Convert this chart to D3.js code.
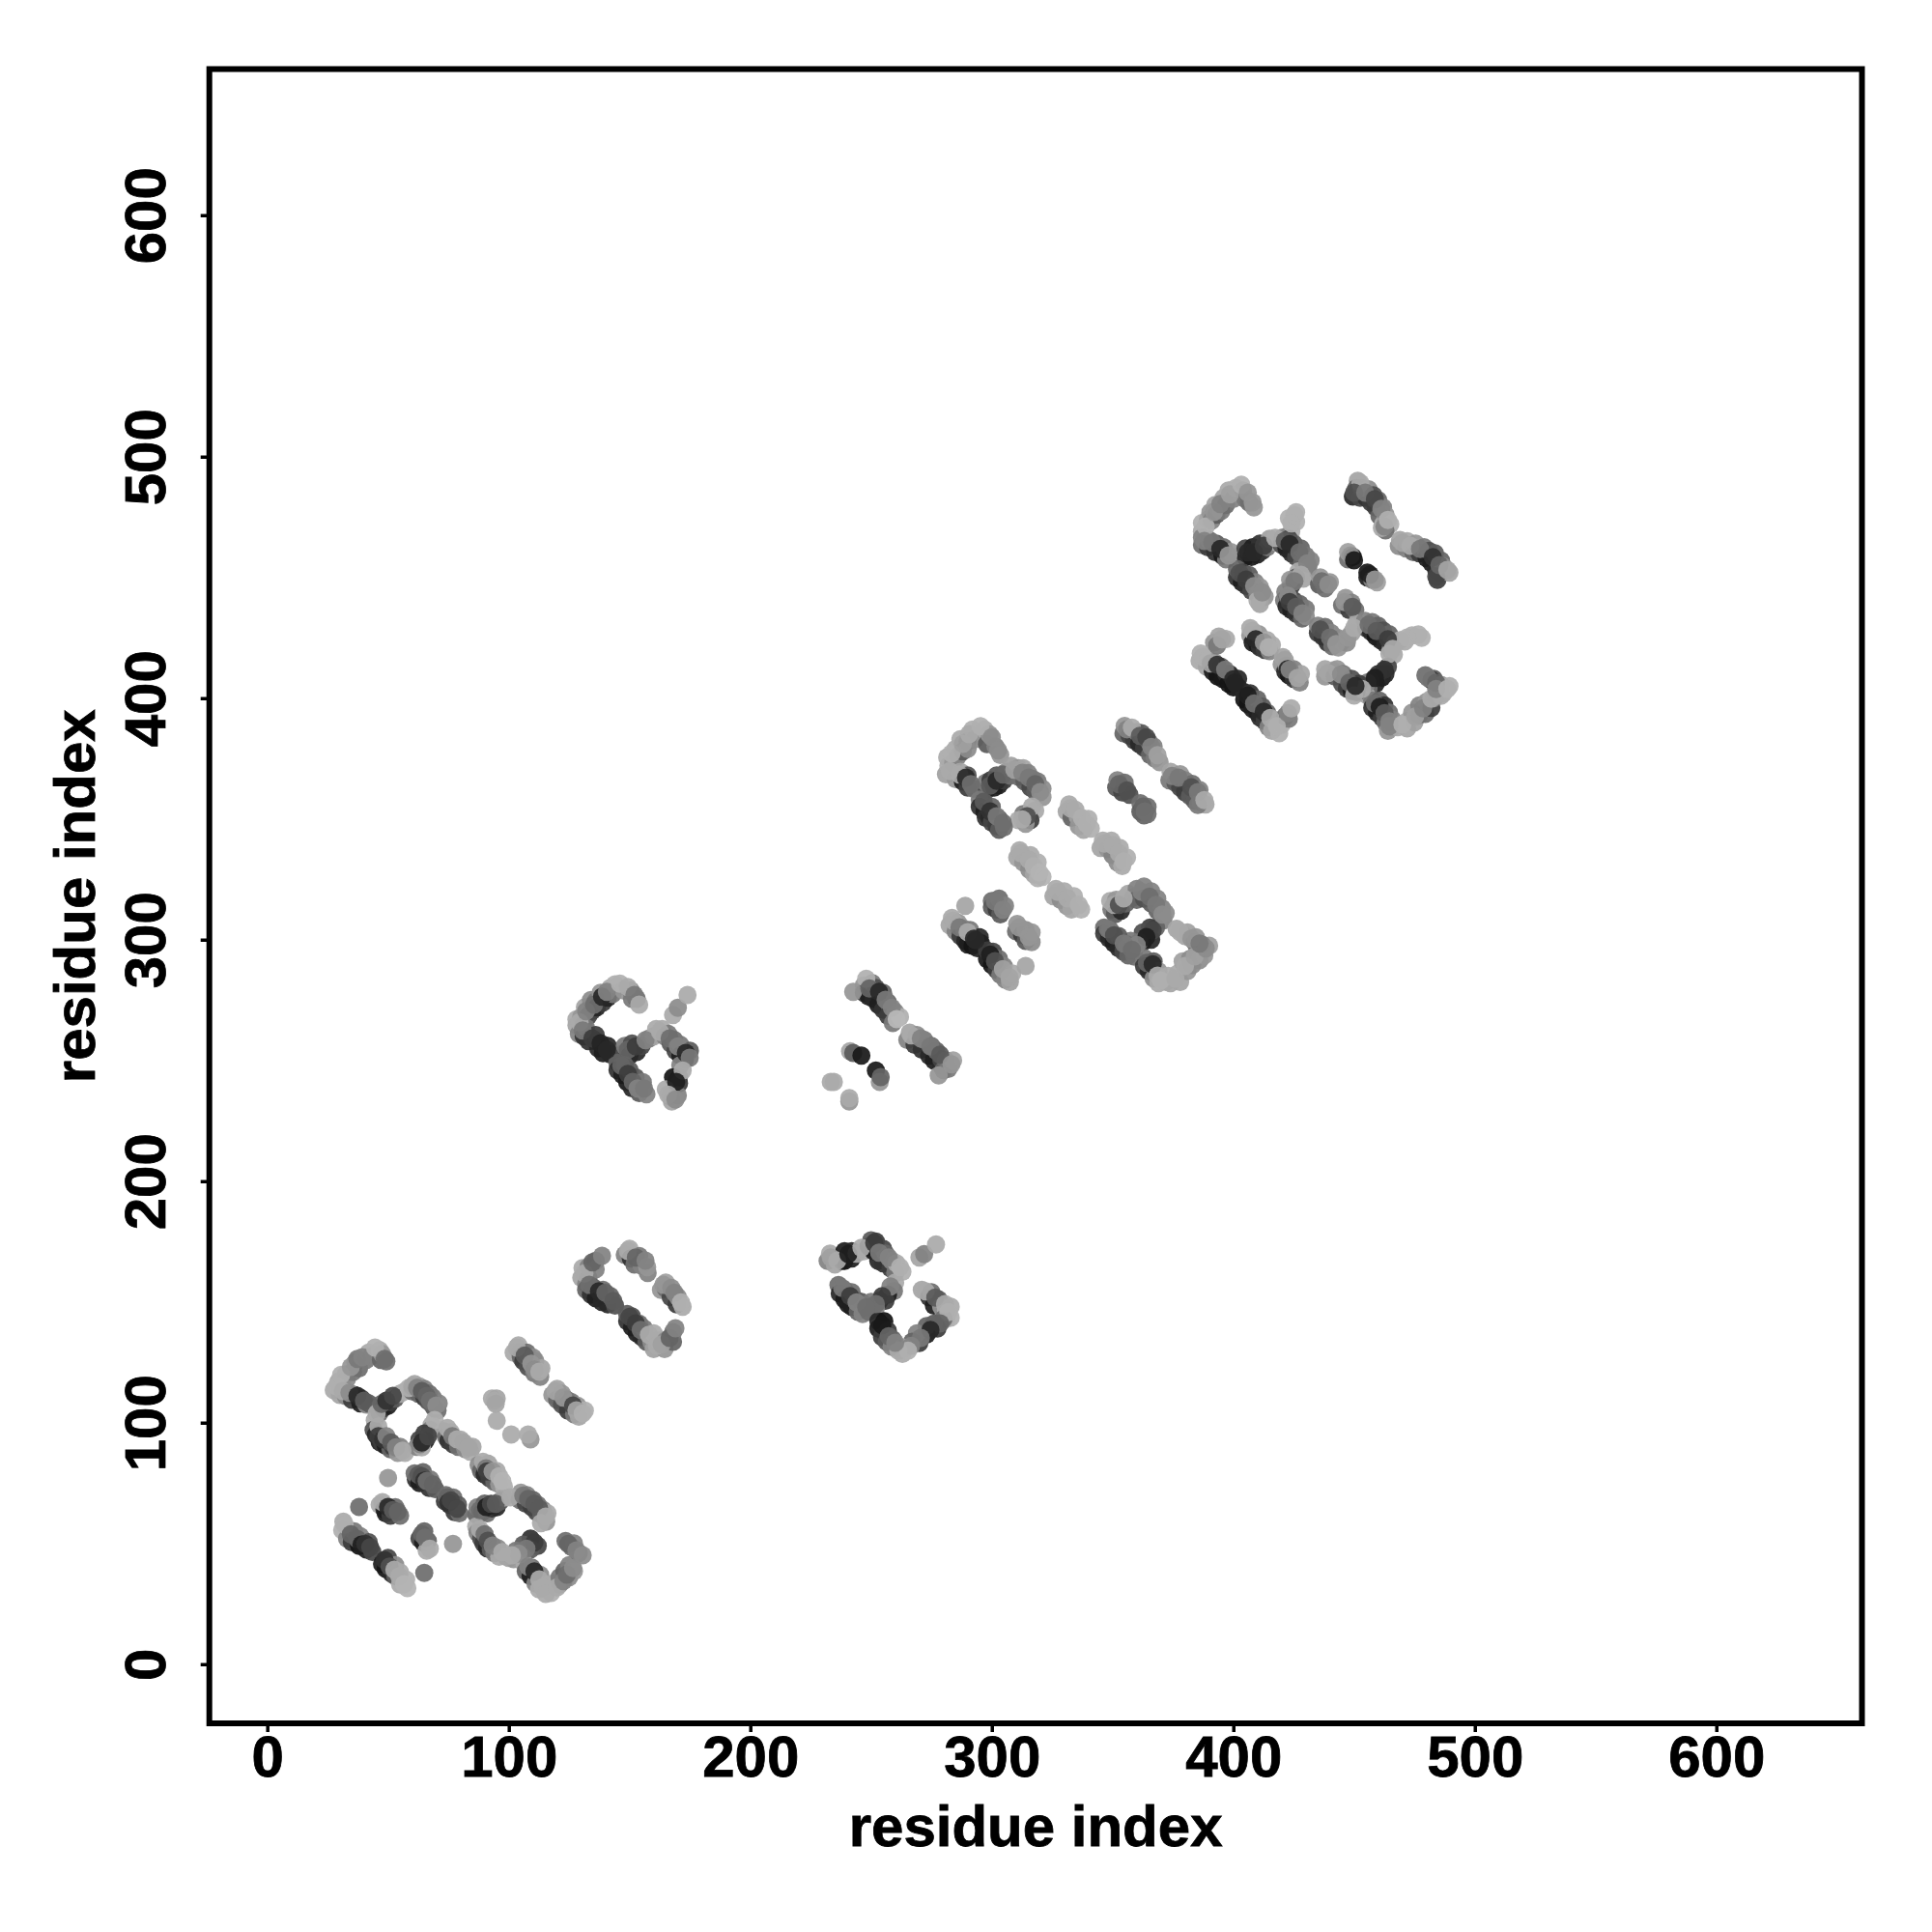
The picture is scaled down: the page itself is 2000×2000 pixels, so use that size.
<!DOCTYPE html>
<html><head><meta charset="utf-8">
<script src="https://cdn.jsdelivr.net/npm/d3@7/dist/d3.min.js"></script>
<style>html,body{margin:0;padding:0;background:#fff}svg{display:block}</style>
</head><body><div id="chart"></div>
<script>
const xTicks=[0,100,200,300,400,500,600];
const yTicks=[0,100,200,300,400,500,600];
const xLabel="residue index", yLabel="residue index";
// each point: [residue i, residue j, shade 0-255]; lower layer first
const lowerA=[[27.5,113.5,170],[29.5,117,165],[31,116.5,170],[32.5,120,150],[33,118,140],[35.5,121,120],[36.5,125,130],[38,122.5,110],[41,126,120],[42,129,170],[43,127.5,130],[46.5,130,170],[47,126,100],[47.5,128.5,150],
[30,111.5,165],[32.5,111,140],[35,109.5,60],[36,111.5,60],[38.5,108,30],[39,110,60],[41,107.5,140],[42,108,90],
[44.5,101,170],[44,97,80],[45,95,40],[46.5,92,30],[47.5,91.5,60],[49,90.5,30],[50,92,90],[51,89,100],[52,90,60],[54,87.5,150],[55,90,130],[57,87.5,170],
[46,106,120],[46.5,104,110],[48,106,60],[50,107,30],[51,108.5,60],[53,110,90],[55,112,170],[57,113,175],
[60,113,110],[61,116,165],[62.5,112,100],[63,115,160],[65,110.5,60],[65,114,130],[66.5,109,80],[67,112,110],[68.5,107,100],[68.5,110.5,120],[70.5,105,110],[71,108,130],
[68,99,170],[67.5,97,130],[65,95.5,60],[65.5,92.5,30],[63,93,70],[62,90,130],[64,89.8,170],
[73,96.5,165],[74,94,110],[75,92.5,50],[76,96,170],[77,91,60],[79,90,110],[80,93,170],[82,89,140],[84,88,170],[85,90,165],
[87.5,82.5,140],[88.5,80,100],[90,78.5,40],[91.5,83,165],[92,77,60],[94,75.5,100],[95,80,170],[96,74.5,150],[98,73.5,175]];
const lowerB=[[86.5,62,100],[87,65,130],[89,63,40],[90,66.5,100],[91,62.5,110],[93,64.5,50],[95,65,40],[96.5,67.5,90],[98,69,165],
[104.5,68,110],[105,71,150],[107,66.5,70],[107.5,70,130],[109.5,65,60],[110,68,100],[111.5,63,70],[112,66,110],[113.5,62,100],[114,64,130],[115.5,59,150],[116,62.5,170],
[112,49,70],[109,52,50],[109,47.5,90],[106,49.5,90],[105.5,44.5,130],[103,47,120],[100,44,170],[102,43.5,150],
[86.5,57,170],[87,54.5,130],[88.5,52,80],[89.5,50,60],[91,48,40],[92.5,47.5,90],[94,46,120],[95.5,48,140],[96,44.5,170],[99,44.5,165],
[106.5,41.5,170],[107,38.5,100],[109,36.5,30],[109.5,40,110],[111,33.5,130],[113,37,140],[112.5,31,170],[116,33,170],[117.5,29.5,175],[118.5,33.5,170],[121,33,140],[121,36,120],[123,38.5,100],[125,36,140],[125,41,130],[127,38.5,150],
[123.5,51,110],[126,48.5,110],[127,50,130],[129,46,110]];
const lowerC=[[61.5,76.5,50],[61,79,110],[63,75,30],[64.5,79.5,100],[67,73,50],[67.5,76.5,120],[69.5,72.5,90],
[73.5,67.5,60],[74,70,110],[75.5,66,40],[77,69,110],[77.5,63,60],[79,66,90],[79.5,62.5,110],
[46.5,66,170],[48.5,64,40],[49,62.5,30],[51,61.5,60],[53,65,110],[55,61.5,110],
[31,55.5,175],[31.5,59,170],[33,52,130],[35,50.5,60],[36,55,120],[38,49,20],[38.5,53,130],[41,47.5,30],[42,50.5,80],[43.5,46.5,70],
[47.5,41.5,30],[49,39.5,20],[50,44,70],[51.5,37.5,40],[53,41,140],[53,36.5,90],[55,38,170],[55,33,170],[57.5,35,175],[58,31.5,180],
[63,52,70],[65,55,100],[64.5,50.5,30],[66.5,51,100],[66,47,170],
[102,129,170],[104,132,170],[104.5,129,150],[105,127,100],[106,125.5,60],[107.5,129,110],[108,123,80],[110,127,140],[110.5,120.5,120],[111,125.5,140],[113,119,130],[113.5,122.5,165],
[118,111.5,150],[120,114,165],[120,109.5,100],[122,112,150],[122,107.5,80],[124,109.5,100],[124.5,105,60],[126,108.5,120],[127,103.5,120],[128.5,107,150],[129,102.5,165],[131.5,105,175],
[93,110,170],[95,110,165]];
const lowerD=[[128,264.5,165],[128,267,170],[130,268,150],[131,264.5,110],[131.5,272,165],[133,268.5,70],[134,275,140],[134.5,270.5,70],[136,274.5,120],[136.5,272,35],[138,278,150],[139,274,60],[141,276,35],[142,280,170],[143,277.5,120],[144,281.5,175],[147.5,279,150],[150.5,279,140],[151,275.5,120],[153,275.5,110],
[129,261,130],[131,260,50],[132,263.5,120],[133,258,50],[136,258,35],[136,260.5,60],[137,255,40],[139,253,30],[141,256,40],[142,252.5,40],
[147.5,253,80],[148,256,120],[150,252,40],[151,257,80],[153,253.5,40],[155,256,70],[158,259,120],[160,260,165],[161,263,170],
[163.5,263,170],[164.5,260,130],[166,261,120],[167,257,90],[168.5,258.5,110],[169,254,70],[171,256.5,120],[171,252,30],[173,250.5,30],[175,254,90],
[170.5,243,130],[171,248,130],[168,243,20],[170.5,240.5,60],[165,238,170],[167.5,233,165],[167,235,160],[170,235.5,130],
[145,249,100],[145,246,50],[147,244,30],[148,248,100],[149,241,25],[150,246,90],[151,238.5,40],[152.5,243,90],[154,236.5,90],[155.5,241,120],[157,236,130]];
const lowerE=[[247,281,150],[247,278,60],[249,276.5,30],[250.5,282,120],[251,275.5,40],[252,280,80],[253,273,30],[255,278,100],[255,271,50],[257,274,100],[257,268.5,60],[259,265.5,120],[260,270,130],[262,268,175],
[265,258.5,130],[266,261.5,165],[268,256.5,60],[269,260.5,140],[271,254.5,50],[272,258.5,120],[274,252,40],[275,256,110],[276,250,30],[277,254,100],[279,248,40],[279,250.5,70],[280,246,100],[281,250,110],[282,246.5,120],[284,250,160]];
const lowerF=[[130,160,165],[130.5,164,170],[132,157.5,130],[133,160,110],[133,164.5,130],[136,167,100],[136,163.5,130],
[132,155,100],[134,153,50],[135,156,90],[136,151.5,30],[138.5,150,40],[139,155,110],[141,149,40],[142,152.5,100],[144,148.5,80],
[148,169.5,130],[150,172,170],[150.5,168,50],[152,165.5,110],[154,169,120],[155,165,130],[157.5,162,130],
[163,155,150],[165,155.5,110],[165,158,160],[167,152,70],[169.5,149,60],[170,152,140],[172,148,170],
[149,142,50],[149,145,90],[151,139.5,30],[151,144,80],[153,137,30],[154,141,110],[155,135.5,40],[156,139,120],[157,133.5,90],[159,133.5,140],[160,137,170],[160,130.5,160],[162,134,170],[164.5,130.5,150],[165,134,140],[168,133.5,100],[168,137.5,120]];
const lowerG=[[232,167,130],[233,170,170],[235,165.5,165],[238,167,60],[239,171,30],[239,167,20],[242,168,30],[242,171,40],[244,170,170],[247,171,170],
[249,173,30],[250,175.5,90],[251,171,25],[252,175,60],[253,167,40],[255,172,70],[255,166,50],[256,170,100],[258,164,60],[258.5,167,130],[260,162,120],[260.5,166,170],[263,162.5,175],
[260,158,170],[259.5,154.5,120],[257,153,30],[256,150.5,60],[253.5,150.5,50],[252,147.5,130],[250,147.5,120],
[236.5,157,110],[237,153.5,40],[239,155,110],[239,151,25],[240.5,149,30],[242,154,110],[242,148,30],[243.5,151,110],[244.5,146,100],[246,150,90],[246.5,145,130],[249,146,110],[250,150,120],
[271,155,165],[274,152,50],[275,154,110],[276,148.5,30],[278,151,90],[279,148,150],[281,146.5,170],[283,148,170],[283,143.5,175],[281,143,175],
[280,143,110],[277.5,139,60],[276,141,90],[273,136.5,30],[273,140,100],[270,133,60],[269,137,130],[267,133.5,100],[264,131,170],[263,128.5,170],[260,131,170],
[253,142,40],[255.5,142,20],[253,139,30],[255.5,137.5,30],[254.5,135.5,60],[257,138,60],[256.5,133.5,90],[259,134.5,100],[258.5,131.5,130]];
const lowerH=[[281,368.5,160],[282,372,170],[281.5,375.5,170],[284,373,150],[285,379,170],[286,376,130],[287,383,170],[288,378,90],[290,382,60],[290,379,140],[292,387,175],[293,383,140],[297,387,170],[298,381,90],[299,385,150],[301.5,380,130],[303.5,376.5,150],
[285,366.5,150],[287,369.5,165],[288,365.5,30],[290,368,80],[290,363,60],[292.5,362.5,110],
[298,362,70],[297.5,365,120],[299.5,366,60],[301,363,30],[302,368,90],[303,364,30],[305,366,60],[306,369.5,130],[307.5,368,110],[308,372,160],[311,371,150],
[311,367.5,110],[313,371,165],[313.5,365.5,90],[315,369,130],[316,363,70],[317,366.5,120],[318,361.5,90],[319,365.5,120],[321,362.5,140],[321,359,150],
[318,353.5,170],[316,349.5,60],[313,352,120],[311,349.5,170],[314,348,150],
[295,358,120],[295,355,50],[297,353,30],[297.5,350.5,50],[299,350.5,40],[300,355,100],[300,348.5,70],[302,347,60],[303,350,90],[303,345.5,90],[305,346.5,110]];
const lowerI=[[354.5,385.5,100],[355,388.5,150],[357,384.5,70],[359,382.5,60],[360,386,120],[361,381,40],[362,385.5,90],[363,379.5,60],[365,382,100],[365.5,376.5,100],[367,380,130],[367.5,375,120],[369.5,373.5,150],
[373.5,366,120],[374,369.5,165],[376,365,90],[378,368.5,150],[378,363,70],[380,366,130],[380,361,60],[382,359.5,90],[383,364.5,110],[384,357.5,90],[386,362,130],[386.5,357,130],[388.5,356,165],
[351.5,363,90],[352,366,130],[354,361,70],[355,365,110],[357,360,80],
[361.5,356.5,110],[361.5,353,90],[363,351.5,100],[364.5,355,110],[364.5,352,110],
[331,353,165],[332,356,170],[333,350.5,100],[335.5,351,160],[336,347,150],[338,345.5,165],[340,350,175],[341,346,175],
[345,338,165],[346,341,170],[348,337.5,150],[349.5,341,170],[350,335,130],[352,332,140],[353,338,170],[354,330.5,170],[356,334,175],
[310.5,334,165],[311.5,337,170],[313,332,150],[316,335,170],[315.5,329,140],[317.5,327,165],[319,332,175],[321,326,180],[319,325.5,175],
[325.5,318,165],[326.5,321,170],[328.5,316.5,140],[330,320,170],[331,314,150],[333,312.5,165],[334,318,175],[337,312.5,175]];
const lowerJ=[[300,316,110],[300,313.5,90],[302,312.5,60],[303,317,110],[303.5,310.5,90],[305.5,314,130],
[310,303.5,110],[310.5,306.5,150],[312.5,302,60],[314,299.5,90],[314,304,140],[316.5,299,140],[316.5,303,150],
[282.5,306,165],[283.5,309,170],[285,303.5,130],[286,307,150],[287,301.5,60],[288.5,304.5,140],[289,299.5,40],[290,298,30],[291,304,120],[292,297.5,20],[294,296.5,30],[295,301,40],[295.5,298.5,30],
[298,292,25],[298,295.5,60],[300,289.5,20],[300.5,295,70],[302,287.5,60],[303,292,110],[303.5,285.5,120],[305,289,130],[305.5,283.5,130],[307.5,282.5,160],[308.5,286,170],
[349.5,312.5,120],[349,316,170],[351,310.5,90],[351.5,316.5,150],[353.5,312,40],[355.5,315,100],[356.5,319,165],[358.5,317.5,110],[360,321,130],[360,316.5,100],[363,322,130],
[363,317,80],[366,320,130],[366,315,90],[368.5,317,130],[368.5,312,100],[370.5,313,130],[371,308,130],[372,311,140],
[368,305,100],[366,300,40],[365.5,305,60],[362.5,299,30],[362.5,303,80],[359,296,70],[361,299,110],[357.5,299.5,120],
[346.5,305,110],[346.5,302.5,60],[348.5,300.5,40],[349,304,110],[350.5,298.5,30],[352.5,301.5,90],[352.5,296.5,40],[354.5,295,70],[356,298,110],[356.5,293.5,100],[359,293,110],
[363,292.5,120],[363,289,60],[365,287,40],[367,291,90],[367,284,140],[369,287,150],[369,282,170],[372,282.5,170],[373,285,170],
[374,282,165],[377,286,170],[378,282.5,165],[379,291,160],[381,287,150],[382,292,140],[383,289.5,140],[385,295,130],[386,291.5,140],[388,293.5,150],[390,297.5,160],[387,298,130],
[376.5,304.5,165],[380,301.5,165],[381,303,160],[384,299,110],[384.5,301,150]];
const lowerK=[[387,469,170],[387,472.5,175],[389.5,474,165],[390.5,477,150],[391,473.5,130],[392.5,480,165],[393,476,90],[395,477.5,120],[396,483,165],[397,480,110],[398,486,170],[400,482.5,130],[401,487,175],[404,486,130],[405,482.5,120],[406.5,481,110],[408.5,479,150],
[387,463.5,110],[387,466.5,130],[389.5,462.5,60],[390,465.5,110],[392.5,460.5,50],[393,464,90],[395.5,459,25],[396,462.5,110],[397,457.5,120],[399,460.5,150],
[405,458.5,30],[405,462,70],[407.5,458.5,25],[408,462.5,30],[410,459.5,30],[411,464,50],[412,461,50],[414,462.5,120],[415,466,160],[418,464.5,170],
[424,469,175],[426,473,175],[423,474.5,175],[426,477,175],
[420,463.5,80],[420.5,466.5,130],[422,462,30],[423,466,70],[424,460,40],[425,464,90],[426,458.5,70],[428,462,100],[428.5,456.5,100],[430,459,120],[431,454,120],[432,457,130],
[401.5,450,50],[401.5,453.5,100],[403.5,448,30],[404,452,70],[405.5,446.5,50],[406.5,451,90],[407.5,444.5,70],[409,448,130],[410,443,130],[411,446,150],[413,442,150],[411,439,165],
[429,449.5,165],[427,452.5,170],[426,450,90],[424,446.5,60],[423.5,449,150],[421.5,444,130],[421,440.5,120],
[422,438,40],[422.5,442,90],[424,436.5,30],[425,440.5,70],[426,435,50],[427.5,439,100],[428.5,433,100],[430,437,120],[430,434,140],
[435.5,447,90],[436,450,150],[438,445.5,110],[440,448,150],[445,438.5,110],[446.5,441.5,150],[448,436.5,60],[449,439.5,130],[450.5,436.5,110],
[447.5,457.5,110],[447.5,460.5,160],[449.5,458.5,25],[455.5,452,25],[455.5,450,30],[457.5,449,130],[459.5,448,160]];
const lowerL=[[451.5,490,165],[451,487,100],[449.5,483.5,40],[451.5,486,60],[452.5,483,70],[453,487,120],[455,483,50],[456,486.5,140],[457,481,60],[458,484,80],[459,479,60],[460,482,100],[460.5,475.5,100],[462,479,130],[462,472,170],[463,476,150],[465,472,175],[463,469.5,110],[461.5,470.5,170],
[468.5,463,140],[469,465.5,165],[471.5,462,130],[472,465,170],[474.5,460.5,100],[475.5,464,150],[477,460,60],[479,462.5,120],[480,458,30],[481,461,80],[482,456,30],[483.5,460,90],[484,453,40],[485.5,452,60],[486,457,100],[484.5,449,60],[487,454.5,140],[489.5,452,165],
[435,427,60],[435,430,130],[437,425.5,50],[438,429.5,110],[439,423,50],[440.5,427,130],[441,421.5,110],[443,425,140],[443.5,421,150],[445,423.5,150],[447,423,140],[449,427,160],[451,431,170],
[455,429,70],[454.5,432,130],[457,427.5,40],[457.5,431.5,120],[459,425.5,20],[460,430,100],[461,424,30],[462,428,80],[463,422.5,40],[464.5,426.5,100],[465,420,120],[467,423,170],[466.5,418,170],
[471,423.5,170],[469,424,170],[474,426,175],[478,425,175],
[464,413,70],[461.5,408.5,20],[463,410,40],[460,410,50],[459,406,30],[457,407,60],[456,404,110],[455,401.5,165],[451.5,402.5,165],[455.5,406.5,130],
[438,409,150],[438,412,165],[441,411.5,170],[442,409,90],[443,412,150],[445,406,80],[445.5,410,120],[447,404,60],[449,408,80],[449,403,30],[451,402.5,40],[452,406,60],
[457.5,399,120],[457.5,396,50],[459.5,394,30],[460.5,399,100],[461.5,392,60],[462.5,397,50],[463,390,110],[464.5,394,110],[466,391,130],[464,386.5,150],[466,388,150],
[468,388,170],[472,390.5,170],[472,387.5,165],[475,390,160],[474,394,150],[477,393,130],[477,397,130],[479.5,393.5,110],[480,398.5,150],[482,396,60],[483,400,120],[484,401,120],[483,408,90],[479.5,409.5,110],[482,407.5,30],[486,405.5,150],[487,402,175],[489.5,405,175],[486,401,170]];
const lowerM=[[392,423,150],[394,425.5,165],[397,424.5,170],
[407,426,150],[407,429,170],[408,423,30],[410,422,25],[410.5,426.5,150],[411,421,50],[413,420,60],[414,424,170],[415,419.5,130],[416,422,170],
[420,414,150],[420.5,417,165],[421.5,411,40],[422,413.5,130],[423,409.5,20],[425,412,130],[425,408,50],[427.5,406.5,130],[428,410,165],
[386,415.5,170],[386.5,418.5,175],[389,413,165],[389.5,416,175],[391.5,411,30],[392,415,150],[393.5,409,20],[395,413,90],[395.5,408,25],[397,410,40],[398,406,20],[398.5,410,30],[400,404.5,20],[402,408,40],[402,404.5,35],
[404.5,399.5,20],[404.5,402.5,40],[406,397.5,20],[407,402,50],[408,395.5,30],[410,399.5,100],[410,394,30],[411,392,40],[412,396.5,90],[413,390.5,60],[414,394,100],[414.5,388,130],[416,386.5,165],[417,391,170],[419,385.5,175],[420,389,175],
[421.5,392.5,110],[423,391.5,120]];
const groupA=[[28.6,115.1,175],[30.6,119.8,175],[34.6,123.1,150],[37.3,126.4,120],[39.3,127.1,130],[44.6,131.1,175],[48.6,126.4,110],[49.3,125.4,110],
[31.3,113.1,170],[34,112.4,140],[37.3,111.1,40],[40,109.1,90],
[46,98.4,170],[46,94.4,60],[48,93.1,50],[49.3,94.4,130],[51.3,91.8,90],[53.3,89.8,130],[56,88.4,170],
[45.3,103.8,170],[47.3,107.8,100],[49.3,109.1,50],[52,111.1,70],[58.6,114.4,175],
[60,115.1,165],[62,114.4,130],[64,113.1,90],[66,111.1,100],[69.3,105.8,100],[67.3,109.1,110],[70,107.1,140],[69.3,101.1,175],
[63.3,91.1,130],[64,91.8,40],[66.6,94.4,70],
[74.6,97.8,170],[76.6,94.4,120],[78.6,93.1,170],[81.3,91.8,165],[83.3,89.8,165],
[89.3,83.8,170],[90.6,81.1,120],[91,79.8,60],[93.3,79.8,150],[96,77.8,175],[97.3,75.8,180]];
const groupB=[[88,63.8,110],[90.6,65.1,30],[92.6,66.4,70],[94.6,66.4,90],[100.6,69.1,170],
[106,69.8,120],[108,68.4,100],[110.6,66.4,90],[112.6,64.4,90],[113.3,58.4,170],[115.3,61.1,170],
[110.6,50.4,60],[107.3,47.8,120],[104,45.8,140],[101.3,45.1,170],
[88,55.8,170],[90,53.8,110],[91.3,51.1,80],[93.3,49.1,130],[97.3,46.4,170],
[108,40.4,130],[110.6,38.4,40],[112.6,35.1,170],[114,31.8,170],[115.3,29.1,170],[120,31.8,170],[122.6,34.4,130],[124,37.1,110],[126.6,39.8,140],
[124.6,49.8,100],[128,47.1,130],[130.6,45.1,140]];
const groupC=[[50,77.1,150],[62.6,78.4,90],[64,77.8,80],[65,76,50],[66,75.8,110],[68.6,74.4,100],
[74.6,69.1,100],[75,67,50],[76,67.8,70],[78.6,64.4,70],[38,65.1,110],
[47.7,67.1,170],[50,65.1,40],[52,63.8,90],[54,63.1,100],
[32,57.8,175],[34.6,53.8,100],[37.3,51.8,100],[39,49.5,30],[40.6,49.8,50],[42.6,48.4,70],
[48.6,43.1,50],[50.6,40.4,80],[52.6,39.1,170],[54.6,36.4,170],[56.6,33.1,180],
[64,53.8,100],[65.3,52.4,110],[67.3,47.8,170],[76.9,49.8,150],[65,37.8,110],
[103.3,131.1,170],[106.6,127.8,90],[109.3,124.4,150],[110.6,122,140],[112.6,121.1,170],
[119.3,113.1,165],[122.6,110.4,150],[126.6,107.1,70],[128,105.1,165],[130.6,103.8,175],
[94,109.1,170],[94.6,107.8,165],[95,100.8,170],[101,95.1,170],[109,93.1,150],[108,95.1,170]];
const groupD=[[129.3,265.8,170],[132,270.4,130],[135.3,273.1,110],[138.6,276.4,40],[140.6,278.4,130],[146,281.8,175],[149.3,280.4,170],[152,277.1,120],[154,273.1,170],
[130.6,262.4,120],[134.6,259.1,60],[138,257.1,35],[140.6,254.4,40],
[149.3,254.4,100],[152.6,255.8,60],[156.6,258.4,130],[162.6,261.8,170],
[166.6,259.1,110],[170,255.8,130],[173.3,253.1,40],[174.9,251.1,120],
[172,245.8,170],[169.3,241.1,30],[166,235.8,170],[169,233.8,140],
[146.6,247.8,100],[149.3,244.4,60],[151.3,241.1,100],[153.3,238.4,130],[156,238.4,120],
[168,268.8,170],[170,271.8,140],[174,277.1,170]];
const groupE=[[242.6,278.4,150],[248,283.8,175],[249.3,279.8,100],[253.3,278.4,40],[256,275.1,120],[258.6,271.8,130],[260.6,267.1,185],
[266.6,260.4,170],[270.6,259.1,130],[274.6,255.8,120],[278,243.8,150],[278.6,252.4,90],[283.3,248.4,150],
[241.3,253.8,165],[242.6,253.1,90],[246,252,25],[252,245.8,25],[253.6,241.1,150],[254,243.1,100],
[233.3,241.1,170],[234.6,241.1,170],[241,233,150],[241,234.4,170]];
const groupF=[[131.3,161.8,170],[134.6,166.4,100],[138.6,169.1,130],
[133.3,157.1,110],[137.3,154.4,40],[140,153.8,100],[143.3,150.4,90],
[149.3,171.1,170],[152.6,168.4,100],[157.3,164.4,150],[156.6,167.1,130],
[164,157.1,150],[167.3,155.8,140],[168.6,153.8,130],[171.3,149.8,175],
[150,143.8,70],[152.6,141.1,60],[154.6,138.4,110],[158,136.4,170],[161.3,131.8,170],[163.3,132.4,160],[166.6,135.1,100],[169,139.1,130]];
const groupG=[[233.3,168.4,160],[236,167.1,170],[240.6,169.8,30],[246,172.4,170],
[251.3,174.4,60],[253.3,170.4,120],[257.3,168.4,130],[262,164.4,175],
[258,156.4,130],[254.6,152.4,60],[252,149.1,110],
[238,155.8,120],[241.3,152.4,60],[244,149.8,130],[248,147.8,110],
[270,168.4,165],[272,169.8,130],[276.9,173.8,170],
[272.6,154.4,170],[276.6,151.8,90],[280.6,149.1,170],[282,145.8,175],
[278.6,141.1,100],[274.6,138.4,40],[270.6,135.1,120],[266.6,131.8,130],[261.3,129.8,170],[265.3,129.8,175],
[254.6,140.4,25],[257.3,135.8,100],[260,133.1,130]];
const groupH=[[282.6,369.8,170],[283.3,377.1,175],[288,381.1,160],[290.6,385.1,170],[295.3,388.4,175],[300,383.8,140],[302.6,378.4,140],
[286.6,368.4,170],[289.3,367.1,40],[291.3,364.4,110],
[299.3,363.8,90],[302,365.8,40],[304.6,368.4,100],[309.3,370.4,160],
[312.6,369.1,130],[315.3,367.1,120],[318,364.4,100],[320,361.1,140],
[316.6,355.1,170],[314.6,351.1,80],[312.6,349.8,170],
[296.6,357.1,90],[299.3,353.1,50],[302,351.1,120],[304.6,348.4,110]];
const groupI=[[356,387.1,130],[358,387.8,170],[361.3,384.4,90],[364,383.8,70],[366,379.8,130],[368.6,376.4,160],
[374.6,367.8,130],[377.3,367.1,120],[382.6,363.1,80],[385.3,355.8,120],[385.3,361.1,120],[388,357.8,170],
[352.6,364.4,100],[356,361.8,80],[362.6,355.1,100],[363.3,353.1,110],
[332.6,354.4,170],[334.6,353.8,170],[337.3,350.4,175],[339.3,347.8,175],
[346.6,339.8,170],[350,339.1,170],[352.6,335.8,170],[354.6,332.4,175],
[312,335.8,170],[315.3,333.1,170],[317.3,330.4,175],[319.7,327.8,180],
[327.3,319.8,170],[331.3,317.1,170],[336,314.4,175]];
const groupJ=[[289,314,165],[301.3,315.8,120],[304.6,312.4,130],[311.3,305.1,150],[315.3,301.1,150],[314,289.1,165],
[284,307.8,170],[286.6,305.1,120],[290,303.1,170],[292.6,300.4,40],[293.3,299.8,40],
[299.3,293.8,30],[301.3,291.1,80],[304.6,287.8,160],[307.3,284.4,165],
[350.6,314.4,165],[352.6,314.4,80],[354.6,317.1,170],[362,319.8,130],
[365.3,317.8,110],[368,314.4,120],[370.6,310.4,140],
[366.6,303.8,70],[364,301.1,30],[360,297.8,130],
[348,304.4,120],[350.6,301.8,80],[354.6,298.4,120],[358,295.8,110],
[364.2,290.4,100],[366.6,289.8,40],[368.6,285.1,170],[370,283.1,175],
[376,283.8,170],[380,289.1,170],[384,293.1,160],[388.6,296.4,140],
[378,303.1,170],[382.6,300.4,150],[386,298.4,120]];
const groupK=[[388.6,471.1,175],[392,477.1,150],[394.6,480.4,130],[398.6,484.4,160],[403.3,488.4,175],[406,485.1,150],[408,481.1,150],
[388,465.1,130],[391.3,464.4,120],[394.6,461.8,40],[398,459.1,150],
[406,460.4,40],[408.6,460.4,40],[412.6,463.1,60],[417.3,466.4,170],
[425.3,475.8,175],[424,472.4,175],
[421.3,465.1,90],[423.3,463.8,40],[427.3,460.4,110],[430.6,455.8,130],
[402.6,451.8,80],[405.3,449.1,60],[408.6,446.4,140],[410,440.4,170],[412,443.8,140],
[428,451.1,170],[425.3,448.4,120],[422.6,442.4,140],
[423.3,439.8,60],[426,437.8,90],[428.6,435.1,130],
[436.6,448.4,110],[439.3,447.1,140],[446,439.8,150],[449.3,437.8,90],
[448.6,459.1,150],[450,457.1,25],[456.6,451.1,30],[458.6,449.1,150]];
const groupL=[[452.6,489.1,170],[450,485.1,80],[454.6,485.1,120],[458.6,482.4,70],[461.3,478.4,130],[462.6,471.1,130],[464,473.8,175],
[470,464.4,165],[473.3,463.1,170],[477.3,461.8,120],[482.6,458.4,50],[484,450.4,70],[485.3,455.1,100],[488.6,453.1,165],
[436,428.4,80],[440,425.1,110],[442.6,422.4,150],[447.3,425.1,150],[450,429.1,170],
[456,430.4,110],[459.3,427.8,90],[464,424.4,60],[464.6,418.4,170],[466,420.4,170],[472,425.1,175],[476.6,426.4,175],
[462.6,411.8,50],[458.6,408.4,30],[453.3,403.8,170],
[439.3,410.4,165],[444.6,409.8,140],[448,406.4,100],[450,401.1,170],[450.6,405.1,40],
[458.6,397.8,110],[460.6,396.4,30],[462.6,393.8,90],[464.6,388.4,130],[464.6,390.4,130],
[470,389.1,175],[475.3,392.4,160],[478.6,395.8,130],[482,399.8,170],[480.6,408.4,120],[484,406.4,100],[484,403.8,130],[488.6,403.8,175]];
const groupM=[[393.3,421.8,120],[395.3,424.4,165],[408,427.8,170],[409.3,424.4,40],[412.6,423.1,150],[414.6,421.1,175],
[421.3,415.8,160],[422.5,412,40],[423.3,411.8,130],[426.6,408.4,165],
[387.3,417.1,175],[390.6,414.4,165],[393.3,413.8,50],[396.6,411.8,120],[400,407.8,40],[400.6,406.4,35],
[406,401.1,30],[408.6,397.8,110],[412.6,394.4,40],[415.3,391.8,170],[418,388.4,175],
[422.6,393.8,130],[424,395.8,170]];
const lowerGroups=[lowerA,lowerB,lowerC,lowerD,lowerE,lowerF,lowerG,lowerH,lowerI,lowerJ,lowerK,lowerL,lowerM];
const upperGroups=[groupA,groupB,groupC,groupD,groupE,groupF,groupG,groupH,groupI,groupJ,groupK,groupL,groupM];

const W=2000,H=2000,fs=60;
const m={l:216.7,r:1927.5,t:71.5,b:1784};
const x=d3.scaleLinear().domain([-24,660.3]).range([m.l,m.r]);
const y=d3.scaleLinear().domain([-24.5,660.5]).range([m.b,m.t]);
const shade=d3.scaleLinear().domain([0,255]).range(["#000","#fff"]);
const svg=d3.select("#chart").append("svg").attr("width",W).attr("height",H)
  .style("font-family","'Liberation Sans',sans-serif").style("font-weight","bold");
svg.append("rect").attr("width",W).attr("height",H).attr("fill","#fff");
const pts=svg.append("g");
[...lowerGroups,...upperGroups].forEach(g=>{
  pts.append("g").selectAll("circle").data(g).enter().append("circle")
    .attr("cx",d=>x(d[0])).attr("cy",d=>y(d[1])).attr("r",9.4)
    .attr("fill",d=>shade(d[2])).attr("fill-opacity",0.93);
});
const ax=svg.append("g").attr("transform",`translate(0,${m.b})`)
  .call(d3.axisBottom(x).tickValues(xTicks).tickSize(9).tickSizeOuter(0).tickPadding(0));
ax.select(".domain").remove();
ax.selectAll("line").attr("stroke","#000").attr("stroke-width",3.5);
ax.selectAll("text").attr("fill","#000").attr("dy",null).attr("y",55);
const ay=svg.append("g").attr("transform",`translate(${m.l},0)`)
  .call(d3.axisLeft(y).tickValues(yTicks).tickSize(9).tickSizeOuter(0));
ay.select(".domain").remove();
ay.selectAll("line").attr("stroke","#000").attr("stroke-width",3.5);
ay.selectAll("text").attr("fill","#000").attr("dy",null).attr("x",null).attr("y",0)
  .attr("transform","translate(-46,0) rotate(-90)").attr("text-anchor","middle");
svg.selectAll("g.tick text").style("font-size",fs+"px").style("font-family","'Liberation Sans',sans-serif").style("font-weight","bold").attr("stroke","#000").attr("stroke-width",0.8);
svg.append("rect").attr("x",m.l).attr("y",m.t).attr("width",m.r-m.l).attr("height",m.b-m.t)
  .attr("fill","none").attr("stroke","#000").attr("stroke-width",6);
svg.append("text").attr("x",(m.l+m.r)/2).attr("y",1911).attr("text-anchor","middle").attr("font-size",fs).attr("stroke","#000").attr("stroke-width",0.8).text(xLabel);
svg.append("text").attr("transform",`translate(98,${(m.t+m.b)/2}) rotate(-90)`).attr("text-anchor","middle").attr("font-size",fs).attr("stroke","#000").attr("stroke-width",0.8).text(yLabel);
</script></body></html>
